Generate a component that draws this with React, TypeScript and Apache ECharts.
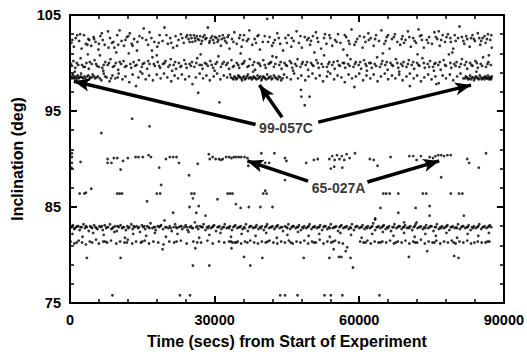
import React, { useEffect, useRef } from "react";
import * as echarts from "echarts";

// Axis ticks
const xTickStep = 30000;
const yTickStep = 10;
const xMin = 0, xMax = 90000;
const yMin = 75, yMax = 105;

// Observations: flat lists of (time in kilo-seconds, inclination in degrees)
const band102 = [
  0.3,102.1, 0.8,101.7, 1.2,102.6, 1.9,102.3, 2.4,101.5, 2.9,102.9, 3.3,102.0, 3.8,102.5, 4.4,101.8, 4.9,102.7,
  5.3,102.2, 5.9,101.4, 6.3,102.8, 6.8,102.4, 7.2,101.9, 7.9,103.3, 8.3,102.6, 8.7,102.1, 9.2,101.6, 9.8,102.9,
  10.3,103.4, 10.7,102.3, 11.2,101.8, 11.8,102.7, 12.4,103.1, 12.8,102.0, 13.3,102.5, 13.9,101.3, 14.4,102.8, 15.3,103.6,
  15.8,102.4, 16.2,101.9, 16.9,102.6, 17.5,102.2, 18.1,101.7, 18.6,102.9, 19.2,102.3, 19.6,103.7, 20.3,102.0, 20.8,102.6,
  21.4,101.6, 21.9,102.8, 22.5,102.4, 23.0,103.0, 23.6,102.1, 24.1,102.7, 24.6,102.5, 25.0,102.9, 25.4,102.2, 25.9,102.6,
  26.3,102.8, 26.8,102.4, 27.2,102.0, 27.6,102.7, 28.1,102.5, 28.6,103.7, 29.0,102.3, 29.5,102.8, 29.9,102.1, 30.4,102.6,
  30.8,102.4, 31.3,101.8, 31.7,102.9, 32.2,102.3, 32.7,102.7, 33.1,101.5, 33.6,102.5, 34.1,103.2, 34.6,102.0, 35.1,102.6,
  35.6,101.7, 36.1,102.9, 36.7,102.3, 37.2,103.4, 37.8,101.9, 38.3,102.5, 38.9,102.8, 39.4,101.4, 40.0,102.2, 40.9,104.6,
  41.4,102.7, 41.9,101.8, 42.5,102.4, 43.0,103.1, 43.6,102.0, 44.2,101.3, 44.7,102.6, 45.3,102.9, 45.9,101.7, 46.4,102.3,
  47.0,103.3, 47.5,102.1, 48.1,101.6, 48.7,102.7, 49.2,102.4, 49.8,101.9, 50.4,102.8, 51.0,103.2, 51.5,102.2, 52.1,101.5,
  52.7,102.6, 53.2,102.0, 53.8,102.9, 54.4,101.8, 55.0,102.4, 55.6,103.0, 56.1,102.1, 56.7,101.4, 57.3,102.7, 57.8,102.3,
  58.4,103.5, 59.0,101.9, 59.6,102.5, 60.1,102.8, 60.7,101.6, 61.3,102.2, 61.9,103.1, 62.4,102.6, 63.0,101.8, 63.5,102.9,
  64.1,102.3, 64.6,103.4, 65.2,102.0, 65.7,102.7, 66.3,101.5, 66.8,102.5, 67.4,103.0, 67.9,102.2, 68.5,101.9, 69.0,102.8,
  69.6,102.4, 70.1,103.3, 70.7,101.7, 71.2,102.6, 71.8,102.1, 72.3,103.5, 72.9,102.9, 73.4,101.6, 74.0,102.4, 74.5,102.7,
  75.1,102.0, 75.6,103.2, 76.2,102.5, 76.7,101.8, 77.3,102.9, 77.8,102.2, 78.4,103.0, 78.9,102.6, 79.5,101.5, 80.0,102.3,
  80.8,103.8, 81.3,102.7, 81.8,102.0, 82.4,102.5, 82.9,101.7, 83.5,102.9, 84.0,102.3, 84.6,103.1, 85.1,101.9, 85.6,102.6,
  86.2,102.1, 86.7,103.0, 87.2,102.4, 87.5,101.6,
  1.5,102.9, 4.0,102.4, 6.0,102.0, 8.0,101.6, 11.5,102.4, 14.0,102.2, 17.0,101.3, 21.0,102.1, 24.3,102.9, 26.0,102.3,
  27.9,102.9, 30.1,102.7, 32.5,102.1, 35.9,102.4, 39.1,102.9, 42.2,102.1, 46.0,102.6, 50.0,102.3, 54.0,102.6, 58.0,102.0,
  62.0,102.4, 66.0,102.9, 69.3,102.1, 73.0,102.4, 76.5,103.3, 79.0,102.2, 83.2,102.6, 86.0,102.8,
  0.5,102.4, 2.1,103.0, 3.6,101.9, 5.0,102.5, 6.6,103.1, 9.0,102.2, 10.0,101.9, 12.1,102.8, 13.0,101.8, 15.0,102.6,
  16.5,103.2, 18.4,102.1, 20.0,102.9, 22.2,101.8, 23.3,102.6, 24.8,102.2, 25.2,102.6, 25.7,102.9, 26.5,102.5, 27.0,102.8,
  27.4,102.3, 28.3,102.6, 28.9,102.1, 29.2,102.6, 29.7,102.4, 30.6,102.2, 31.0,102.8, 31.5,102.5, 32.0,102.6, 32.9,102.9,
  33.9,102.2, 35.3,102.9, 37.0,102.5, 38.6,102.1, 40.4,102.8, 41.1,102.2, 43.3,102.6, 45.0,102.1, 47.8,102.8, 49.5,102.6,
  51.3,102.6, 52.9,103.0, 55.3,102.2, 57.0,102.9, 59.3,102.2, 61.0,102.7, 63.3,102.5, 65.5,102.3, 67.2,102.7, 68.8,102.5,
  70.4,102.7, 71.5,102.3, 72.6,102.8, 74.3,102.1, 75.9,102.7, 77.0,102.4, 78.1,102.7, 79.8,102.9, 80.5,102.6, 81.6,102.3,
  82.2,102.8, 83.8,102.5, 84.9,102.6, 85.3,102.3, 86.5,102.5, 87.4,102.9,
];

const band100 = [
  0.2,99.9, 0.7,100.2, 1.1,99.5, 1.7,99.8, 2.2,100.5, 2.8,99.6, 3.4,100.0, 3.9,99.4, 4.5,99.9, 5.1,100.3,
  5.6,99.7, 6.2,100.8, 6.7,99.5, 7.3,100.1, 7.8,99.8, 8.4,100.4, 8.9,99.6, 9.5,100.0, 10.0,99.3, 10.6,99.9,
  11.1,100.2, 11.7,99.7, 12.2,101.0, 12.7,99.5, 13.2,100.1, 13.8,99.8, 14.3,100.3, 14.9,99.6, 15.4,100.0, 16.0,99.4,
  16.5,99.9, 17.1,100.6, 17.6,99.7, 18.2,100.1, 18.7,99.5, 19.3,99.9, 19.8,100.2, 20.4,99.6, 20.9,100.4, 21.5,99.8,
  22.0,99.4, 22.6,100.0, 23.1,99.7, 23.7,100.3, 24.2,99.5, 24.8,99.9, 25.3,100.1, 25.8,99.6, 26.4,100.5, 26.9,99.8,
  27.5,99.4, 28.0,100.0, 28.6,99.7, 29.1,100.2, 29.7,99.5, 30.2,99.9, 30.8,100.7, 31.3,99.6, 31.9,100.1, 32.4,99.8,
  33.0,99.4, 33.5,100.3, 34.0,99.7, 34.6,100.0, 35.1,99.5, 35.7,99.9, 36.2,100.2, 36.8,99.6, 37.3,100.4, 37.9,99.8,
  38.4,99.3, 39.0,100.0, 39.5,99.7, 40.1,100.3, 40.6,99.5, 41.2,99.9, 41.7,100.1, 42.3,99.6, 42.8,100.6, 43.4,99.8,
  43.9,99.4, 44.5,100.0, 45.0,99.7, 45.6,100.2, 46.1,99.5, 46.7,99.9, 47.2,100.4, 47.8,99.6, 48.3,100.1, 48.9,99.8,
  49.4,99.3, 50.0,100.0, 50.5,99.7, 51.1,100.3, 51.6,99.5, 52.2,99.9, 52.7,100.8, 53.3,99.6, 53.8,100.1, 54.4,99.8,
  54.9,99.4, 55.5,100.2, 56.0,99.7, 56.6,100.0, 57.1,99.5, 57.7,99.9, 58.2,100.4, 58.8,99.6, 59.3,100.1, 59.9,99.8,
  60.4,99.4, 61.0,100.3, 61.5,99.7, 62.1,100.0, 62.6,99.5, 63.2,99.9, 63.7,100.6, 64.3,99.6, 64.8,100.2, 65.4,99.8,
  65.9,99.3, 66.5,100.0, 67.0,99.7, 67.6,100.4, 68.1,99.5, 68.7,99.9, 69.2,100.1, 69.8,99.6, 70.3,100.3, 70.9,99.8,
  71.4,99.4, 72.0,100.0, 72.5,99.7, 73.1,100.5, 73.6,99.5, 74.2,99.9, 74.7,100.2, 75.3,99.6, 75.8,100.0, 76.4,99.8,
  76.9,99.3, 77.5,100.3, 78.0,99.7, 78.6,100.9, 79.1,99.5, 79.7,99.9, 80.2,100.1, 80.8,99.6, 81.3,100.4, 81.9,99.8,
  82.4,99.4, 83.0,100.0, 83.5,99.7, 84.1,100.2, 84.6,99.5, 85.2,99.9, 85.7,100.6, 86.3,99.6, 86.8,100.1, 87.3,99.8,
  0.4,99.7, 1.4,100.0, 2.5,99.8, 3.1,99.6, 4.1,100.1, 5.4,99.9, 6.0,99.6, 7.0,99.8, 8.1,100.0, 9.2,99.7,
  10.3,100.1, 11.4,99.6, 12.5,99.9, 13.5,99.7, 15.1,99.9, 16.2,100.2, 17.4,99.9, 18.5,99.7, 19.6,100.0, 20.7,99.8,
  21.8,100.1, 22.9,99.6, 24.0,99.9, 25.1,99.7, 26.2,100.0, 27.3,99.8, 28.3,99.9, 29.4,99.8, 30.5,100.1, 31.6,99.9,
  32.7,100.0, 33.8,99.6, 34.9,99.8, 36.0,100.0, 37.1,99.7, 38.2,100.1, 39.3,99.9, 40.4,99.8, 41.5,100.0, 42.6,99.9,
  43.7,100.1, 44.8,99.8, 45.9,100.0, 47.0,99.7, 48.1,99.9, 49.2,100.1, 50.3,99.8, 51.4,100.0, 52.5,99.6, 53.6,99.9,
  54.7,100.1, 55.8,99.8, 56.9,100.0, 58.0,99.7, 59.1,99.9, 60.2,100.1, 61.3,99.9, 62.4,100.0, 63.5,99.7, 64.6,99.9,
  65.7,100.1, 66.8,99.8, 67.9,100.0, 69.0,99.7, 70.1,99.9, 71.2,100.1, 72.3,99.8, 73.4,100.0, 74.5,99.6, 75.6,99.9,
  76.7,100.1, 77.8,99.8, 78.9,100.0, 80.0,99.7, 81.1,99.9, 82.2,100.1, 83.3,99.8, 84.4,100.0, 85.5,99.7, 86.6,99.9,
  1.0,99.1, 3.7,100.9, 6.9,99.2, 9.6,101.1, 14.6,99.1, 18.0,100.8, 21.2,99.2, 27.1,100.9, 30.0,99.2, 35.4,101.0,
  38.0,99.1, 42.0,100.7, 46.3,99.2, 50.7,101.1, 53.5,99.1, 57.5,100.8, 61.6,99.2, 64.9,101.0, 68.3,99.1, 72.1,100.9,
  75.5,99.2, 79.3,101.1, 84.3,99.1, 86.9,100.8,
];

const band98 = [
  0.1,98.6, 0.4,98.4, 0.6,98.8, 0.9,98.5, 1.3,98.3, 1.6,98.7, 2.0,98.5, 2.3,98.9, 2.7,98.4, 3.0,98.6,
  3.5,98.2, 3.8,98.7, 4.2,98.5, 4.7,98.8, 5.2,98.4, 5.8,98.6, 6.5,98.2, 7.0,98.9, 7.6,98.5, 8.2,98.1,
  8.8,98.7, 9.4,98.4, 10.1,98.9, 10.9,98.3, 11.5,98.6, 12.3,98.0, 13.0,98.8, 14.2,98.5, 15.0,98.9, 15.7,98.3,
  16.4,98.7, 17.2,98.2, 18.0,98.8, 18.8,98.4, 19.5,98.9, 20.2,98.5, 21.0,98.1, 21.7,98.7, 22.4,98.4, 23.2,98.8,
  23.9,98.3, 24.7,98.6, 25.4,97.8, 26.1,98.5, 26.9,98.9, 27.6,98.4, 28.3,98.7, 29.0,98.2, 29.8,98.6, 30.5,98.9,
  31.2,98.3, 31.9,98.7, 32.6,98.5, 33.2,98.8, 33.7,98.4, 34.1,98.6, 34.5,98.3, 34.9,98.7, 35.3,98.5, 35.7,98.2,
  36.1,98.6, 36.5,98.4, 36.9,98.8, 37.3,98.5, 37.7,98.3, 38.1,98.6, 38.5,98.4, 38.9,98.7, 39.3,98.5, 39.7,98.2,
  40.1,98.6, 40.5,98.4, 40.9,98.8, 41.3,98.5, 41.8,98.3, 42.3,98.7, 42.8,98.4, 43.3,98.6, 43.8,98.2, 44.4,98.8,
  45.0,98.5, 45.8,98.3, 46.5,98.9, 47.3,98.4, 48.0,98.7, 48.8,98.2, 49.5,98.6, 50.3,98.9, 51.0,98.4, 51.8,98.7,
  52.5,98.1, 53.3,98.6, 54.0,98.9, 54.8,98.3, 55.5,98.7, 56.3,98.5, 57.0,98.0, 57.8,98.8, 58.5,98.4, 59.3,98.6,
  60.0,98.9, 60.8,98.2, 61.5,98.7, 62.3,98.4, 63.0,98.8, 63.8,98.1, 64.5,98.6, 65.3,98.9, 66.0,98.3, 66.8,98.7,
  67.5,98.4, 68.3,98.8, 69.0,98.2, 69.8,98.6, 70.5,98.9, 71.3,98.4, 72.0,98.7, 72.8,98.1, 73.5,98.5, 74.3,98.8,
  75.0,98.3, 75.8,98.6, 76.5,97.9, 77.3,98.7, 78.0,98.4, 78.8,98.8, 79.5,98.2, 80.3,98.6, 81.0,98.9, 81.6,98.4,
  82.1,98.6, 82.6,98.3, 83.0,98.7, 83.4,98.5, 83.8,98.2, 84.2,98.6, 84.6,98.4, 85.0,98.7, 85.4,98.3, 85.8,98.5,
  86.1,98.6, 86.4,98.4, 86.7,98.7, 87.0,98.5, 87.3,98.3, 87.5,98.6,
  0.2,98.5, 0.5,98.6, 0.8,98.4, 1.1,98.6, 1.5,98.5, 1.8,98.4, 2.2,98.6, 2.5,98.5, 3.2,98.4, 3.6,98.6,
  4.0,98.3, 4.5,98.5, 5.0,98.6, 5.5,98.5, 6.2,98.4, 7.3,98.6, 8.5,98.4, 9.9,98.5, 33.4,98.5, 33.9,98.3,
  34.3,98.5, 34.7,98.4, 35.1,98.6, 35.5,98.4, 35.9,98.5, 36.3,98.3, 36.7,98.6, 37.1,98.4, 37.5,98.5, 37.9,98.4,
  38.3,98.5, 38.7,98.3, 39.1,98.4, 39.5,98.6, 39.9,98.4, 40.3,98.5, 40.7,98.3, 41.1,98.4, 41.6,98.6, 42.0,98.4,
  42.6,98.5, 43.1,98.3, 43.6,98.5, 44.1,98.4, 82.0,98.4, 82.4,98.5, 82.8,98.4, 83.2,98.3, 83.6,98.5, 84.0,98.4,
  84.4,98.5, 84.8,98.3, 85.2,98.5, 85.6,98.4, 86.0,98.3, 86.3,98.5, 86.6,98.4, 86.9,98.3, 87.2,98.5, 87.4,98.4,
];

const strays95 = [
  13.7,97.6, 26.6,96.9, 31.0,95.9, 26.4,95.0, 12.9,94.2, 6.5,92.7, 16.5,93.4, 47.9,97.2, 48.0,96.5, 49.7,96.5,
  48.7,95.6, 3.0,97.9, 59.0,97.5, 70.5,97.6, 76.0,97.8,
];

const band90 = [
  0.4,90.6, 0.4,90.2, 0.4,89.6, 0.3,89.1, 2.2,89.7, 7.8,90.0, 7.8,89.6, 8.6,89.6, 9.1,90.1, 9.8,90.1,
  10.5,88.9, 11.0,89.8, 12.0,90.1, 13.6,90.2, 14.2,90.2, 15.1,90.2, 16.3,90.4, 16.8,90.2, 18.5,89.1, 19.9,90.0,
  20.7,90.2, 21.4,90.2, 22.1,90.2, 22.6,89.6, 24.7,88.3, 26.5,89.5, 28.8,90.5, 29.0,90.0, 29.6,90.2, 30.2,90.0,
  30.9,90.0, 31.3,89.9, 31.7,90.0, 32.4,90.2, 33.0,90.2, 33.5,90.1, 34.0,90.2, 34.5,90.2, 35.0,90.2, 35.5,90.2,
  36.2,90.2, 36.8,90.1, 37.0,89.3, 39.7,90.6, 40.5,89.6, 41.3,89.6, 42.4,90.6, 44.6,90.1, 44.9,89.8, 49.0,89.6,
  50.6,89.9, 51.4,90.0, 53.8,90.0, 54.4,90.3, 54.9,89.9, 55.4,90.4, 55.9,90.0, 56.4,90.3, 56.9,89.9, 57.4,90.5,
  58.0,90.1, 59.1,90.6, 54.1,89.0, 54.8,89.2, 56.5,89.1, 62.2,90.0, 63.0,89.9, 63.8,89.3, 66.5,90.2, 70.4,90.3,
  71.2,90.3, 72.8,90.3, 71.9,89.9, 73.9,89.4, 73.9,89.8, 74.2,89.6, 74.6,90.2, 75.3,90.1, 75.8,90.3, 76.4,90.4,
  77.0,90.4, 77.6,90.3, 78.3,90.4, 79.0,90.4, 77.0,88.1, 82.4,90.0, 82.8,89.6, 84.8,89.1, 86.3,90.6, 44.6,87.8,
];

const band86 = [
  2.0,86.4, 3.0,86.4, 3.3,86.5, 4.4,86.9, 9.8,86.4, 10.3,86.4, 10.8,86.4, 16.0,85.6, 18.0,86.4, 18.7,86.4,
  18.9,87.3, 21.4,84.4, 24.8,85.0, 25.2,86.4, 25.8,86.4, 25.5,85.9, 26.2,84.4, 26.7,85.1, 28.1,84.1, 30.6,85.8,
  32.7,86.4, 33.2,86.4, 33.7,86.4, 34.4,85.3, 35.4,84.9, 37.1,85.0, 39.5,85.0, 40.1,86.4, 40.5,86.7, 40.8,86.4,
  42.0,85.0, 65.0,86.4, 65.6,86.4, 66.3,86.4, 68.1,86.4, 73.2,86.4, 73.9,86.4, 79.0,86.4, 80.7,86.4, 81.4,86.4,
  64.4,84.9, 68.1,84.4, 71.7,84.9, 74.6,85.1, 74.6,84.1, 63.3,83.8, 81.7,84.1,
];

const band83 = [
  0.2,82.9, 0.6,83.1, 0.9,82.7, 1.3,82.9, 1.7,83.0, 2.0,82.6, 2.4,82.9, 2.8,83.2, 3.1,82.8, 3.5,82.9,
  3.9,82.5, 4.2,83.0, 4.6,82.8, 5.0,83.1, 5.3,82.9, 5.7,82.7, 6.1,83.0, 6.4,82.9, 6.8,82.6, 7.2,83.1,
  7.5,82.8, 7.9,82.9, 8.3,83.2, 8.6,82.7, 9.0,82.9, 9.4,83.0, 9.7,82.5, 10.1,82.9, 10.5,83.1, 10.8,82.8,
  11.2,82.9, 11.6,82.6, 11.9,83.0, 12.3,82.9, 12.7,83.2, 13.0,82.7, 13.4,82.9, 13.8,83.0, 14.1,82.8, 14.5,82.4,
  14.9,83.1, 15.2,82.9, 15.6,82.7, 16.0,83.0, 16.3,82.9, 16.7,83.3, 17.1,82.8, 17.4,82.9, 17.8,82.6, 18.2,83.0,
  18.5,82.9, 18.9,83.1, 19.3,82.7, 19.6,83.6, 20.0,82.9, 20.4,82.8, 20.7,83.0, 21.1,82.5, 21.5,82.9, 21.8,83.2,
  22.2,82.8, 22.6,82.9, 22.9,83.0, 23.3,82.7, 23.7,82.9, 24.0,83.1, 24.4,82.6, 24.8,82.9, 25.1,83.0, 25.5,82.8,
  25.9,83.4, 26.2,82.9, 26.6,82.7, 27.0,83.0, 27.3,82.9, 27.7,83.2, 28.1,82.6, 28.4,82.9, 28.8,83.0, 29.2,82.8,
  29.5,82.9, 29.9,83.1, 30.3,82.5, 30.6,82.9, 31.0,83.0, 31.4,82.7, 31.7,82.9, 32.1,83.2, 32.5,82.8, 32.8,82.9,
  33.2,83.0, 33.6,82.6, 33.9,82.9, 34.3,83.1, 34.7,82.8, 35.0,82.9, 35.4,83.0, 35.8,82.7, 36.1,82.9, 36.5,83.2,
  36.9,82.5, 37.2,82.9, 37.6,83.0, 38.0,82.8, 38.3,82.9, 38.7,83.1, 39.1,82.7, 39.4,82.9, 39.8,83.0, 40.2,82.6,
  40.5,82.9, 40.9,83.2, 41.3,82.8, 41.6,82.9, 42.0,83.0, 42.4,82.7, 42.7,82.9, 43.1,83.1, 43.5,82.8, 43.8,82.9,
  44.2,82.5, 44.6,83.0, 44.9,82.9, 45.3,83.2, 45.7,82.7, 46.0,82.9, 46.4,83.0, 46.8,82.8, 47.1,82.9, 47.5,83.1,
  47.9,82.6, 48.2,82.9, 48.6,83.0, 49.0,82.8, 49.3,82.9, 49.7,83.2, 50.1,82.7, 50.4,82.9, 50.8,83.0, 51.2,82.8,
  51.5,82.9, 51.9,83.1, 52.3,82.6, 52.6,82.9, 53.0,83.0, 53.4,82.7, 53.7,82.9, 54.1,83.2, 54.5,82.8, 54.8,82.9,
  55.2,83.0, 55.6,82.5, 55.9,82.9, 56.3,83.1, 56.7,82.8, 57.0,82.9, 57.4,83.0, 57.8,82.7, 58.1,82.9, 58.5,83.2,
  58.9,82.6, 59.2,82.9, 59.6,83.0, 60.0,82.8, 60.3,82.9, 60.7,83.1, 61.1,82.7, 61.4,82.9, 61.8,83.0, 62.2,82.8,
  62.5,82.9, 62.9,83.3, 63.3,82.6, 63.6,82.9, 64.0,83.0, 64.4,82.8, 64.7,82.9, 65.1,83.1, 65.5,82.7, 65.8,82.9,
  66.2,83.0, 66.6,82.5, 66.9,82.9, 67.3,83.2, 67.7,82.8, 68.0,82.9, 68.4,83.0, 68.8,82.7, 69.1,82.9, 69.5,83.1,
  69.9,82.8, 70.2,82.9, 70.6,83.0, 71.0,82.6, 71.3,82.9, 71.7,83.2, 72.1,82.8, 72.4,82.9, 72.8,83.0, 73.2,82.7,
  73.5,82.9, 73.9,83.1, 74.3,82.8, 74.6,82.9, 75.0,83.0, 75.4,82.5, 75.7,82.9, 76.1,83.2, 76.5,82.7, 76.8,82.9,
  77.2,83.0, 77.6,82.8, 77.9,82.9, 78.3,83.1, 78.7,82.6, 79.0,82.9, 79.4,83.0, 79.8,82.8, 80.1,82.9, 80.5,83.2,
  80.9,82.7, 81.2,82.9, 81.6,83.0, 82.0,82.8, 82.3,82.9, 82.7,83.1, 83.1,82.6, 83.4,82.9, 83.8,83.0, 84.2,82.8,
  84.5,82.9, 84.9,83.2, 85.3,82.7, 85.6,82.9, 86.0,83.0, 86.4,82.8, 86.7,82.9, 87.1,83.1, 87.4,82.9,
  63.3,83.7, 69.3,83.4, 71.9,83.4,
  0.4,82.9, 1.0,82.8, 1.5,83.0, 2.2,82.9, 3.3,83.0, 4.4,82.9, 5.5,82.8, 6.6,83.0, 7.7,82.9, 8.8,82.8,
  9.9,83.0, 11.0,82.9, 12.1,82.8, 13.2,83.0, 14.3,82.9, 15.4,83.0, 16.5,82.8, 17.6,82.9, 18.7,83.0, 19.8,82.9,
  20.9,82.8, 22.0,82.9, 23.1,83.0, 24.2,82.9, 25.3,82.8, 26.4,83.0, 27.5,82.9, 28.6,82.8, 29.7,83.0, 30.8,82.9,
  31.9,82.9, 33.0,82.8, 34.1,83.0, 35.2,82.9, 36.3,82.8, 37.4,83.0, 38.5,82.9, 39.6,82.8, 40.7,83.0, 41.8,82.9,
  42.9,83.0, 44.0,82.9, 45.1,82.8, 46.2,83.0, 47.3,82.9, 48.4,82.8, 49.5,83.0, 50.6,82.9, 51.7,82.9, 52.8,83.0,
  53.9,82.8, 55.0,82.9, 56.1,83.0, 57.2,82.9, 58.3,82.8, 59.4,83.0, 60.5,82.9, 61.6,82.8, 62.7,83.0, 63.8,82.9,
  64.9,83.0, 66.0,82.8, 67.1,82.9, 68.2,83.0, 69.3,82.9, 70.4,82.8, 71.5,83.0, 72.6,82.9, 73.7,82.8, 74.8,83.0,
  75.9,82.9, 77.0,82.8, 78.1,83.0, 79.2,82.9, 80.3,82.8, 81.4,83.0, 82.5,82.9, 83.6,82.8, 84.7,83.0, 85.8,82.9,
  86.9,83.0,
];

const band82 = [
  0.5,82.2, 2.6,81.9, 4.8,82.3, 7.0,82.1, 9.2,82.4, 11.4,81.8, 13.1,82.2, 15.8,82.0, 17.6,82.3, 19.9,81.9,
  22.3,82.2, 24.6,82.4, 26.8,81.8, 28.9,82.1, 31.2,82.3, 33.4,81.9, 35.6,82.2, 38.5,82.0, 40.7,82.3, 42.9,81.8,
  45.1,82.1, 47.3,82.4, 49.5,82.0, 51.7,82.2, 53.9,81.9, 56.1,82.3, 58.3,82.1, 60.5,81.8, 62.7,82.2, 64.9,82.4,
  67.1,82.0, 69.3,82.3, 71.5,81.9, 73.7,82.2, 75.9,82.0, 78.1,82.3, 80.3,81.8, 82.5,82.2, 84.7,82.0, 86.9,82.3,
];

const band81 = [
  0.1,81.4, 0.9,81.2, 1.8,81.5, 2.5,81.3, 3.3,81.1, 4.1,81.4, 5.4,81.6, 6.0,81.2, 6.9,81.4, 7.7,81.3,
  8.5,81.5, 9.6,81.2, 10.4,81.4, 11.3,81.3, 12.0,81.6, 12.9,81.2, 13.7,81.4, 14.7,81.3, 15.5,81.5, 16.4,81.2,
  17.3,81.4, 18.3,81.3, 19.4,81.1, 20.6,81.4, 21.6,81.3, 23.0,81.5, 24.2,81.2, 25.6,81.4, 27.2,81.3, 28.5,81.5,
  29.6,81.2, 30.9,81.4, 32.0,81.3, 33.0,81.4, 33.7,81.3, 34.2,81.3, 34.8,81.4, 35.5,81.2, 36.3,81.4, 37.4,81.5,
  38.2,81.3, 39.0,81.2, 39.8,81.4, 40.6,81.3, 41.4,81.5, 42.2,81.3, 43.0,81.2, 43.8,81.4, 44.6,81.3, 45.4,81.5,
  46.2,81.2, 47.0,81.4, 47.8,81.3, 48.6,81.5, 49.4,81.2, 50.2,81.4, 51.0,81.3, 51.8,81.6, 52.6,81.2, 53.4,81.4,
  54.2,81.3, 55.0,81.5, 55.8,81.3, 56.6,81.2, 60.2,81.4, 60.9,81.3, 61.7,81.5, 62.4,81.2, 63.2,81.4, 64.0,81.3,
  64.8,81.4, 65.6,81.3, 66.4,81.5, 67.2,81.2, 68.0,81.4, 68.8,81.3, 69.6,81.5, 70.4,81.2, 71.2,81.4, 72.0,81.3,
  72.8,81.6, 73.6,81.2, 74.4,81.4, 75.2,81.3, 76.0,81.5, 76.8,81.2, 77.6,81.4, 78.4,81.3, 79.2,81.5, 80.0,81.2,
  80.8,81.4, 81.6,81.3, 82.4,81.5, 83.2,81.2, 84.6,81.4, 85.4,81.3, 86.2,81.3, 87.0,81.4,
  1.4,81.3, 4.6,81.3, 7.3,81.4, 11.8,81.3, 15.0,81.4, 22.1,81.4, 26.4,81.3, 33.4,81.4, 34.5,81.3, 36.8,81.3,
  41.0,81.4, 45.8,81.3, 50.6,81.3, 54.6,81.4, 61.3,81.3, 64.4,81.3, 67.6,81.3, 71.6,81.3, 75.6,81.3, 79.6,81.3,
  83.9,81.3, 86.6,81.4,
];

const strays78 = [
  3.5,79.7, 8.8,75.8, 10.5,79.7, 19.2,80.6, 25.5,78.9, 26.0,80.7, 28.9,78.9, 22.8,75.8, 24.9,75.8, 36.1,79.8,
  37.4,78.9, 39.9,79.7, 43.6,75.8, 44.6,75.8, 33.5,80.7, 47.2,75.8, 52.8,75.8, 54.1,75.8, 56.5,75.8, 64.2,75.8,
  48.5,79.7, 53.8,79.7, 55.8,79.8, 56.3,79.8, 58.2,79.7, 58.7,78.7, 54.7,80.6, 57.5,80.8, 57.2,80.4, 70.3,79.8,
  74.1,80.4, 79.7,79.9, 80.6,79.7,
];

// Annotations (kilo-seconds, degrees): label positions and arrows (from -> to)
const labelTexts = ["99-057C", "65-027A"];
const labelPositions = [[44.8, 93.2], [55.7, 87.0]];
const arrows = [
  [[38.5, 93.6], [0.8, 98.1]],
  [[44.0, 94.35], [39.3, 97.7]],
  [[51.5, 93.84], [83.2, 97.7]],
  [[49.4, 87.7], [36.8, 89.8]],
  [[61.7, 87.6], [76.6, 89.8]],
];

const KS = 1000;
function pairs(flat: number[]): number[][] {
  const out: number[][] = [];
  for (let i = 0; i + 1 < flat.length; i += 2) out.push([flat[i] * KS, flat[i + 1]]);
  return out;
}

const FONT = "'Liberation Sans', Arial, Helvetica, sans-serif";

export default function App() {
  const ref = useRef<HTMLDivElement>(null);
  useEffect(() => {
    if (!ref.current) return;
    const chart = echarts.init(ref.current, undefined, { renderer: "svg" });
    const points = [
      ...pairs(band102), ...pairs(band100), ...pairs(band98), ...pairs(strays95),
      ...pairs(band90), ...pairs(band86), ...pairs(band83), ...pairs(band82),
      ...pairs(band81), ...pairs(strays78),
    ];
    const axisCommon = {
      type: "value" as const,
      axisLine: { show: true, onZero: false, lineStyle: { color: "#000", width: 2 } },
      axisTick: { show: true, inside: true, length: 7, lineStyle: { color: "#000", width: 2 } },
      minorTick: { show: true, splitNumber: 5, length: 4, lineStyle: { color: "#000", width: 1.5 } },
      splitLine: { show: false },
      minorSplitLine: { show: false },
    };
    const xCommon = { ...axisCommon, min: xMin, max: xMax, interval: xTickStep };
    const yCommon = { ...axisCommon, min: yMin, max: yMax, interval: yTickStep };
    const tickStyle = { color: "#000", fontFamily: FONT, fontWeight: "bold" as const, fontSize: 14.5 };
    const titleStyle = { color: "#000", fontFamily: FONT, fontWeight: "bold" as const, fontSize: 16 };
    const plain = (v: number) => String(v);
    chart.setOption({
      animation: false,
      backgroundColor: "#fff",
      grid: { left: 70, right: 17, top: 15, bottom: 46, containLabel: false },
      xAxis: [
        {
          ...xCommon,
          position: "bottom",
          axisLabel: { ...tickStyle, margin: 9, formatter: plain },
          name: "Time (secs) from Start of Experiment",
          nameLocation: "middle",
          nameGap: 30,
          nameTextStyle: { ...titleStyle },
        },
        { ...xCommon, position: "top", axisLabel: { show: false } },
      ],
      yAxis: [
        {
          ...yCommon,
          position: "left",
          axisLabel: { ...tickStyle, margin: 9, formatter: plain },
          name: "Inclination (deg)",
          nameLocation: "middle",
          nameGap: 44,
          nameTextStyle: { ...titleStyle },
        },
        { ...yCommon, position: "right", axisLabel: { show: false } },
      ],
      series: [
        {
          type: "scatter",
          data: points,
          symbol: "circle",
          symbolSize: 2.8,
          itemStyle: { color: "#000" },
          silent: true,
          markLine: {
            silent: true,
            symbol: ["none", "arrow"],
            symbolSize: [10, 16],
            label: { show: false },
            lineStyle: { color: "#000", width: 3.5, type: "solid", opacity: 1 },
            data: arrows.map(([a, b]) => [
              { coord: [a[0] * KS, a[1]], symbol: "none" },
              { coord: [b[0] * KS, b[1]], symbol: "arrow" },
            ]),
          },
        },
        {
          type: "scatter",
          data: labelPositions.map((p, i) => ({ value: [p[0] * KS, p[1]], name: labelTexts[i] })),
          symbolSize: 1,
          itemStyle: { color: "rgba(0,0,0,0)" },
          silent: true,
          label: {
            show: true,
            position: "inside",
            formatter: (p: any) => p.name,
            ...tickStyle,
            fontSize: 14,
          },
        },
      ],
    });
    return () => chart.dispose();
  }, []);
  return <div ref={ref} style={{ position: "fixed", left: 0, top: 0, width: 527, height: 354 }} />;
}
